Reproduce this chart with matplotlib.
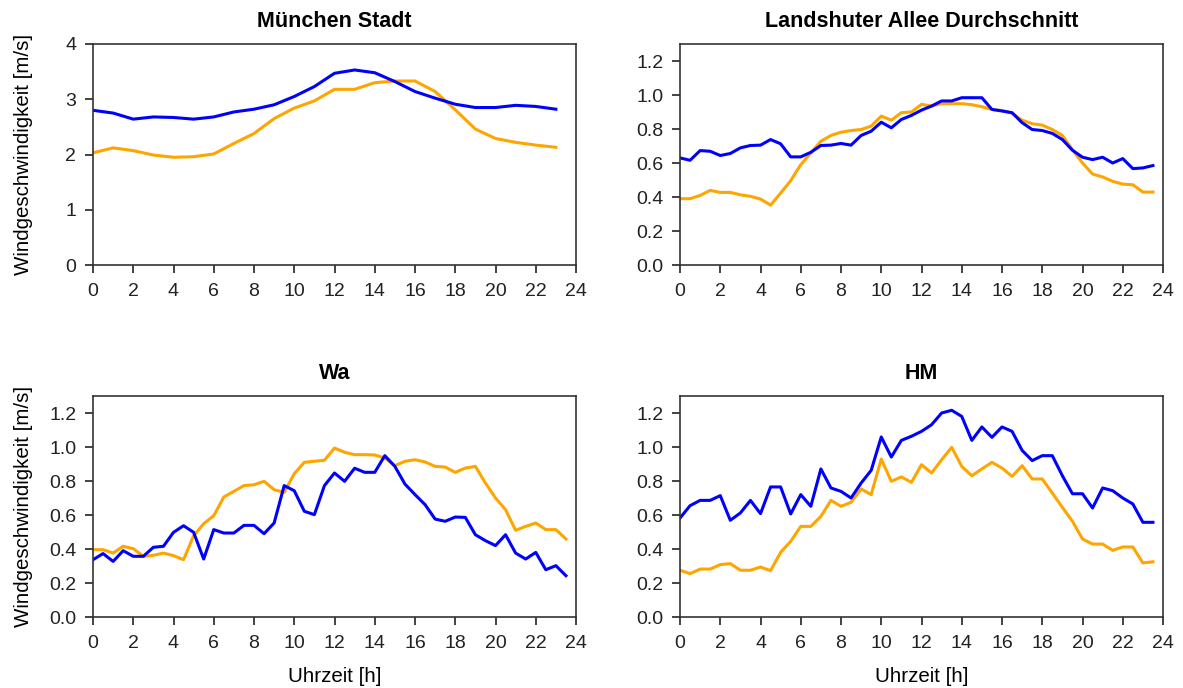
import matplotlib
matplotlib.use("Agg")
import matplotlib.pyplot as plt

plt.rcParams['font.family'] = ['Liberation Sans', 'DejaVu Sans']

# hourly values, Muenchen Stadt (0..23 h)
hours_muc = list(range(24))
muc_blue = [2.80, 2.75, 2.64, 2.68, 2.67, 2.64, 2.68, 2.77, 2.82, 2.90, 3.05, 3.23,
            3.47, 3.53, 3.48, 3.32, 3.14, 3.02, 2.91, 2.85, 2.85, 2.89, 2.87, 2.82]
muc_orange = [2.03, 2.12, 2.07, 1.99, 1.95, 1.96, 2.01, 2.20, 2.38, 2.65, 2.84, 2.97,
              3.18, 3.18, 3.30, 3.33, 3.33, 3.14, 2.81, 2.46, 2.29, 2.22, 2.17, 2.13]

# half-hourly values (0..23.5 h)
hours = [i * 0.5 for i in range(48)]

la_blue = [0.63, 0.616, 0.673, 0.669, 0.644, 0.656, 0.689, 0.703, 0.705, 0.738, 0.713, 0.636,
           0.636, 0.663, 0.703, 0.705, 0.715, 0.705, 0.762, 0.787, 0.84, 0.807, 0.856, 0.88,
           0.911, 0.935, 0.965, 0.965, 0.984, 0.984, 0.984, 0.915, 0.906, 0.896, 0.837, 0.797,
           0.791, 0.774, 0.738, 0.675, 0.634, 0.62, 0.634, 0.60, 0.626, 0.567, 0.571, 0.585]
la_orange = [0.39, 0.39, 0.409, 0.439, 0.427, 0.427, 0.413, 0.404, 0.388, 0.352, 0.423, 0.496,
             0.59, 0.659, 0.728, 0.762, 0.781, 0.791, 0.797, 0.817, 0.876, 0.852, 0.896, 0.90,
             0.945, 0.935, 0.949, 0.949, 0.949, 0.943, 0.931, 0.915, 0.909, 0.892, 0.852, 0.831,
             0.823, 0.797, 0.762, 0.679, 0.60, 0.535, 0.518, 0.492, 0.476, 0.472, 0.429, 0.429]

wa_blue = [0.337, 0.373, 0.327, 0.39, 0.357, 0.357, 0.41, 0.416, 0.498, 0.537, 0.498, 0.341,
           0.514, 0.494, 0.494, 0.539, 0.539, 0.49, 0.553, 0.773, 0.743, 0.622, 0.602, 0.773,
           0.847, 0.798, 0.875, 0.851, 0.851, 0.949, 0.886, 0.782, 0.72, 0.661, 0.576, 0.563,
           0.588, 0.586, 0.484, 0.449, 0.42, 0.484, 0.376, 0.341, 0.38, 0.278, 0.302, 0.243]
wa_orange = [0.396, 0.396, 0.376, 0.416, 0.402, 0.357, 0.363, 0.376, 0.361, 0.337, 0.478, 0.549,
             0.596, 0.706, 0.739, 0.773, 0.778, 0.798, 0.749, 0.733, 0.843, 0.91, 0.916, 0.922,
             0.994, 0.969, 0.955, 0.955, 0.953, 0.935, 0.89, 0.916, 0.925, 0.912, 0.886, 0.882,
             0.851, 0.876, 0.886, 0.788, 0.70, 0.631, 0.51, 0.533, 0.553, 0.514, 0.514, 0.459]

hm_blue = [0.582, 0.655, 0.686, 0.686, 0.714, 0.569, 0.612, 0.686, 0.608, 0.765, 0.765, 0.606,
           0.72, 0.651, 0.871, 0.759, 0.739, 0.70, 0.788, 0.863, 1.059, 0.941, 1.039, 1.063,
           1.092, 1.131, 1.20, 1.216, 1.18, 1.039, 1.118, 1.057, 1.118, 1.092, 0.98, 0.92,
           0.949, 0.949, 0.831, 0.725, 0.725, 0.641, 0.759, 0.743, 0.70, 0.665, 0.557, 0.557]
hm_orange = [0.275, 0.255, 0.282, 0.282, 0.308, 0.314, 0.275, 0.275, 0.294, 0.273, 0.38, 0.445,
             0.533, 0.533, 0.592, 0.686, 0.651, 0.675, 0.753, 0.72, 0.929, 0.798, 0.824, 0.792,
             0.896, 0.847, 0.925, 0.998, 0.886, 0.831, 0.871, 0.91, 0.876, 0.827, 0.89, 0.812,
             0.812, 0.729, 0.645, 0.563, 0.459, 0.429, 0.429, 0.392, 0.412, 0.412, 0.318, 0.325]

titles = ["München Stadt", "Landshuter Allee Durchschnitt", "Wa", "HM"]
ylabel = "Windgeschwindigkeit [m/s]"
xlabel = "Uhrzeit [h]"

W, H = 1183, 688
fig = plt.figure(figsize=(W / 100, H / 100), dpi=100)

# axes boxes in pixels: left, top, right, bottom
boxes = [(93, 44, 576, 265), (680, 44, 1163, 265),
         (93, 396, 576, 617), (680, 396, 1163, 617)]

panels = [
    (hours_muc, muc_blue, muc_orange, 4.0, [0, 1, 2, 3, 4], "{:.0f}"),
    (hours, la_blue, la_orange, 1.3, [0, 0.2, 0.4, 0.6, 0.8, 1.0, 1.2], "{:.1f}"),
    (hours, wa_blue, wa_orange, 1.3, [0, 0.2, 0.4, 0.6, 0.8, 1.0, 1.2], "{:.1f}"),
    (hours, hm_blue, hm_orange, 1.3, [0, 0.2, 0.4, 0.6, 0.8, 1.0, 1.2], "{:.1f}"),
]

for i, (box, (x, yb, yo, ymax, yt, fmt)) in enumerate(zip(boxes, panels)):
    l, t, r, b = box
    ax = fig.add_axes([l / W, 1 - b / H, (r - l) / W, (b - t) / H])
    ax.plot(x, yo, color="#FFA500", lw=2.2)
    ax.plot(x, yb, color="#0000FF", lw=2.2)
    ax.set_xlim(0, 24)
    ax.set_ylim(0, ymax)
    ax.set_xticks(range(0, 25, 2))
    ax.set_yticks(yt)
    ax.set_yticklabels([fmt.format(v) for v in yt])
    ax.tick_params(direction="out", length=6, width=1.2, labelsize=14,
                   colors="#222222")
    ax.tick_params(axis="x", pad=7)
    ax.tick_params(axis="y", pad=6)
    for s in ax.spines.values():
        s.set_linewidth(1.2)
        s.set_color("#333333")
    ax.set_title(titles[i], fontsize=15.5, fontweight="bold", pad=12)
    if i % 2 == 0:
        ax.set_ylabel(ylabel, fontsize=14.8)
        ax.yaxis.set_label_coords(-0.124, 0.5)
    if i >= 2:
        ax.set_xlabel(xlabel, fontsize=14.8, labelpad=11)

fig.savefig("out.png", dpi=100)
